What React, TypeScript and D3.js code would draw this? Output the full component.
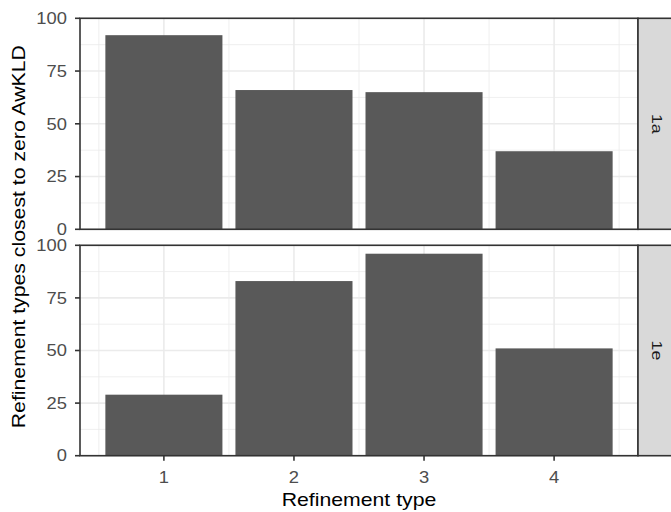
import React from "react";
import * as d3 from "d3";

const categories = [1, 2, 3, 4];
const panels = ["1a", "1e"];
const values1a = [92, 66, 65, 37];
const values1e = [29, 83, 96, 51];
const yTicks = [0, 25, 50, 75, 100];
const yMinor = [12.5, 37.5, 62.5, 87.5];
const xMinor = [0.5, 1.5, 2.5, 3.5, 4.5];

const W = 671;
const H = 512;
const panelLeft = 80;
const panelRight = 638;
const panelTops = [18.3, 245.3];
const panelBottoms = [229.3, 455.7];
const barWidth = 0.9;
const font = "'Liberation Sans', Arial, Helvetica, sans-serif";

type STProps = {
  x: number;
  y: number;
  rotate?: number;
  stretch: number;
  size: number;
  fill: string;
  anchor: "start" | "middle" | "end";
  baseline?: string;
  children: React.ReactNode;
};

function SText({ x, y, rotate = 0, stretch, size, fill, anchor, baseline, children }: STProps) {
  return (
    <text
      transform={`translate(${x},${y}) rotate(${rotate}) scale(${stretch},1)`}
      textAnchor={anchor}
      dominantBaseline={baseline}
      fontSize={size}
      fill={fill}
    >
      {children}
    </text>
  );
}

export default function App() {
  const x = d3.scaleLinear().domain([0.355, 4.645]).range([panelLeft, panelRight]);
  const seriesList = [values1a, values1e];
  return (
    <svg width={W} height={H} style={{ position: "absolute", left: 0, top: 0, background: "#fff" }} fontFamily={font}>
      <rect x={0} y={0} width={W} height={H} fill="#fff" />
      {panels.map((p, pi) => {
        const y = d3.scaleLinear().domain([0, 100]).range([panelBottoms[pi], panelTops[pi]]);
        const top = panelTops[pi];
        const bottom = panelBottoms[pi];
        const vals = seriesList[pi];
        return (
          <g key={p}>
            <rect x={panelLeft} y={top} width={panelRight - panelLeft} height={bottom - top} fill="#fff" />
            {yMinor.map((t) => (
              <line key={"ym" + t} x1={panelLeft} x2={panelRight} y1={y(t)} y2={y(t)} stroke="#EBEBEB" strokeWidth={0.8} />
            ))}
            {xMinor.map((t) => (
              <line key={"xm" + t} x1={x(t)} x2={x(t)} y1={top} y2={bottom} stroke="#EBEBEB" strokeWidth={0.8} />
            ))}
            {yTicks.map((t) => (
              <line key={"yM" + t} x1={panelLeft} x2={panelRight} y1={y(t)} y2={y(t)} stroke="#EBEBEB" strokeWidth={1.6} />
            ))}
            {categories.map((c) => (
              <line key={"xM" + c} x1={x(c)} x2={x(c)} y1={top} y2={bottom} stroke="#EBEBEB" strokeWidth={1.6} />
            ))}
            {categories.map((c, i) => (
              <rect
                key={"b" + c}
                x={x(c - barWidth / 2)}
                width={x(c + barWidth / 2) - x(c - barWidth / 2)}
                y={y(vals[i])}
                height={y(0) - y(vals[i])}
                fill="#595959"
              />
            ))}
            <rect x={panelLeft} y={top} width={panelRight - panelLeft} height={bottom - top} fill="none" stroke="#333333" strokeWidth={1.6} />
            <rect x={panelRight} y={top} width={W - panelRight + 10} height={bottom - top} fill="#D9D9D9" stroke="#333333" strokeWidth={1.6} />
            <SText x={657} y={(top + bottom) / 2} rotate={90} stretch={1.15} size={15.5} fill="#1A1A1A" anchor="middle" baseline="central">
              {p}
            </SText>
            {yTicks.map((t) => (
              <g key={"yt" + t}>
                <line x1={panelLeft - 5} x2={panelLeft} y1={y(t)} y2={y(t)} stroke="#333333" strokeWidth={1.6} />
                <SText x={panelLeft - 13} y={y(t)} stretch={1.08} size={17} fill="#4D4D4D" anchor="end" baseline="central">
                  {t}
                </SText>
              </g>
            ))}
          </g>
        );
      })}
      {categories.map((c) => (
        <g key={"xt" + c}>
          <line x1={x(c)} x2={x(c)} y1={panelBottoms[1]} y2={panelBottoms[1] + 5} stroke="#333333" strokeWidth={1.6} />
          <SText x={x(c)} y={482.5} stretch={1.08} size={17} fill="#4D4D4D" anchor="middle">
            {c}
          </SText>
        </g>
      ))}
      <SText x={(panelLeft + panelRight) / 2} y={505.5} stretch={1.18} size={18} fill="#000" anchor="middle">
        Refinement type
      </SText>
      <SText x={25} y={236.7} rotate={-90} stretch={1.18} size={18} fill="#000" anchor="middle">
        Refinement types closest to zero AwKLD
      </SText>
    </svg>
  );
}
